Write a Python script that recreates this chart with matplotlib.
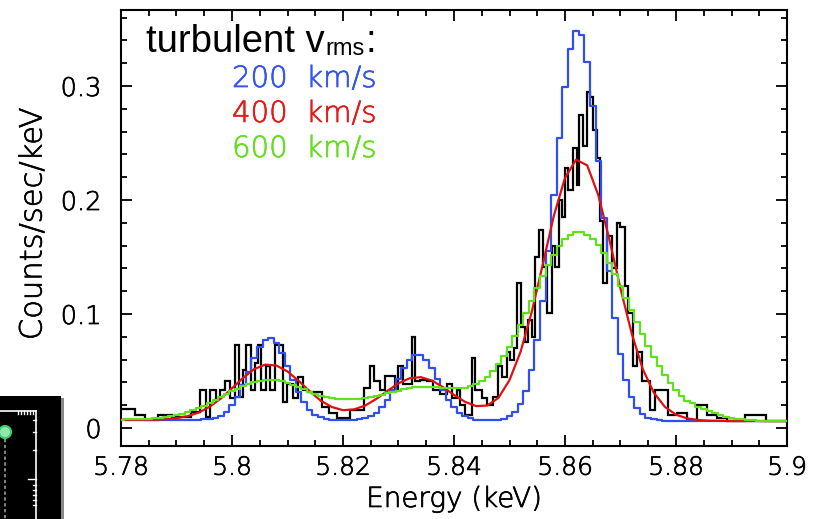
import numpy as np
import matplotlib
matplotlib.use("Agg")
import matplotlib.pyplot as plt
import matplotlib.patheffects as pe
from matplotlib.patches import Rectangle, Circle
from matplotlib.ticker import MultipleLocator

# ---------------- data ----------------
x_ticks = [5.78, 5.80, 5.82, 5.84, 5.86, 5.88, 5.90]
x_tick_labels = ["5.78", "5.8", "5.82", "5.84", "5.86", "5.88", "5.9"]
y_ticks = [0.0, 0.1, 0.2, 0.3]
y_tick_labels = ["0", "0.1", "0.2", "0.3"]

# model energy grids (keV)
model_E = np.linspace(5.78, 5.90, 121)
red_E = np.linspace(5.78, 5.90, 61)

blue_200 = [0.0072, 0.0072, 0.0072, 0.0072, 0.0072, 0.0071, 0.0071, 0.0071, 0.0071, 0.0071,
            0.0071, 0.0071, 0.0071, 0.0071, 0.0072, 0.0075, 0.0080, 0.0090, 0.0109, 0.0143,
            0.0198, 0.0276, 0.0377, 0.0495, 0.0613, 0.0714, 0.0776, 0.0786, 0.0744, 0.0656,
            0.0542, 0.0422, 0.0313, 0.0225, 0.0161, 0.0118, 0.0094, 0.0080, 0.0073, 0.0070,
            0.0068, 0.0069, 0.0072, 0.0076, 0.0086, 0.0104, 0.0133, 0.0181, 0.0247, 0.0333,
            0.0429, 0.0523, 0.0599, 0.0641, 0.0640, 0.0598, 0.0522, 0.0428, 0.0332, 0.0246,
            0.0180, 0.0132, 0.0102, 0.0084, 0.0074, 0.0069, 0.0066, 0.0068, 0.0073, 0.0083,
            0.0103, 0.0142, 0.0212, 0.0327, 0.0506, 0.0768, 0.1117, 0.1552, 0.2044, 0.2544,
            0.2994, 0.3324, 0.3484, 0.3444, 0.3214, 0.2824, 0.2343, 0.1843, 0.1373, 0.0966,
            0.0653, 0.0424, 0.0272, 0.0176, 0.0122, 0.0091, 0.0075, 0.0068, 0.0064, 0.0063,
            0.0062, 0.0062, 0.0062, 0.0062, 0.0062, 0.0061, 0.0061, 0.0061, 0.0061, 0.0061,
            0.0061, 0.0061, 0.0061, 0.0061, 0.0061, 0.0060, 0.0060, 0.0060, 0.0060, 0.0060,
            0.0060]

red_400 = [0.0072, 0.0072, 0.0073, 0.0073, 0.0077, 0.0086, 0.0104, 0.0135, 0.0187, 0.0259,
           0.0348, 0.0440, 0.0517, 0.0556, 0.0548, 0.0496, 0.0414, 0.0322, 0.0239, 0.0184,
           0.0156, 0.0163, 0.0197, 0.0255, 0.0325, 0.0392, 0.0436, 0.0446, 0.0417, 0.0359,
           0.0290, 0.0229, 0.0192, 0.0197, 0.0264, 0.0420, 0.0669, 0.1017, 0.1435, 0.1864,
           0.2194, 0.2354, 0.2304, 0.2043, 0.1653, 0.1223, 0.0833, 0.0518, 0.0310, 0.0185,
           0.0117, 0.0084, 0.0070, 0.0064, 0.0062, 0.0061, 0.0061, 0.0061, 0.0060, 0.0060,
           0.0060]

green_600 = [0.0074, 0.0075, 0.0076, 0.0077, 0.0080, 0.0082, 0.0085, 0.0091, 0.0097, 0.0105,
             0.0115, 0.0127, 0.0141, 0.0158, 0.0177, 0.0196, 0.0219, 0.0244, 0.0269, 0.0295,
             0.0321, 0.0345, 0.0367, 0.0386, 0.0402, 0.0413, 0.0419, 0.0420, 0.0417, 0.0409,
             0.0396, 0.0380, 0.0361, 0.0341, 0.0320, 0.0300, 0.0285, 0.0272, 0.0262, 0.0256,
             0.0253, 0.0252, 0.0254, 0.0258, 0.0264, 0.0272, 0.0282, 0.0293, 0.0305, 0.0317,
             0.0328, 0.0340, 0.0351, 0.0358, 0.0362, 0.0362, 0.0361, 0.0357, 0.0353, 0.0350,
             0.0347, 0.0348, 0.0353, 0.0364, 0.0383, 0.0410, 0.0448, 0.0497, 0.0557, 0.0629,
             0.0711, 0.0803, 0.0903, 0.1008, 0.1118, 0.1226, 0.1332, 0.1431, 0.1520, 0.1596,
             0.1656, 0.1696, 0.1717, 0.1717, 0.1697, 0.1658, 0.1602, 0.1531, 0.1447, 0.1352,
             0.1250, 0.1143, 0.1034, 0.0926, 0.0821, 0.0720, 0.0626, 0.0540, 0.0462, 0.0394,
             0.0333, 0.0281, 0.0237, 0.0215, 0.0188, 0.0165, 0.0145, 0.0128, 0.0113, 0.0100,
             0.0090, 0.0082, 0.0076, 0.0072, 0.0068, 0.0065, 0.0062, 0.0061, 0.0061, 0.0060,
             0.0060]

# observed spectrum (variable-width bins)
data_edges = [5.7800, 5.7825, 5.7843, 5.7867, 5.7891, 5.7927, 5.7942, 5.7954, 5.7960, 5.7972,
              5.7978, 5.7987, 5.7996, 5.8005, 5.8012, 5.8020, 5.8026, 5.8035, 5.8041, 5.8047,
              5.8053, 5.8062, 5.8068, 5.8077, 5.8092, 5.8099, 5.8110, 5.8119, 5.8128, 5.8137,
              5.8153, 5.8162, 5.8174, 5.8189, 5.8213, 5.8237, 5.8249, 5.8255, 5.8267, 5.8276,
              5.8294, 5.8300, 5.8309, 5.8324, 5.8330, 5.8339, 5.8351, 5.8363, 5.8375, 5.8387,
              5.8396, 5.8405, 5.8411, 5.8420, 5.8432, 5.8438, 5.8450, 5.8459, 5.8471, 5.8480,
              5.8486, 5.8495, 5.8501, 5.8508, 5.8514, 5.8520, 5.8528, 5.8534, 5.8540, 5.8546,
              5.8554, 5.8560, 5.8567, 5.8576, 5.8582, 5.8590, 5.8594, 5.8600, 5.8606, 5.8615,
              5.8621, 5.8626, 5.8633, 5.8639, 5.8645, 5.8651, 5.8658, 5.8663, 5.8668, 5.8675,
              5.8684, 5.8693, 5.8699, 5.8708, 5.8714, 5.8723, 5.8729, 5.8738, 5.8753, 5.8762,
              5.8786, 5.8801, 5.8819, 5.8838, 5.8855, 5.8873, 5.8891, 5.8924, 5.8963, 5.9000]
data_counts = [0.0167, 0.0114, 0.0070, 0.0114, 0.0096, 0.0143, 0.0333, 0.0099, 0.0333, 0.0260,
               0.0333, 0.0410, 0.0260, 0.0730, 0.0270, 0.0510, 0.0730, 0.0330, 0.0570, 0.0730,
               0.0330, 0.0540, 0.0330, 0.0730, 0.0230, 0.0390, 0.0260, 0.0450, 0.0330, 0.0320,
               0.0320, 0.0187, 0.0130, 0.0088, 0.0158, 0.0350, 0.0540, 0.0410, 0.0330, 0.0460,
               0.0330, 0.0540, 0.0390, 0.0800, 0.0410, 0.0420, 0.0410, 0.0330, 0.0300, 0.0390,
               0.0260, 0.0330, 0.0200, 0.0114, 0.0610, 0.0330, 0.0260, 0.0200, 0.0275, 0.0540,
               0.0450, 0.0670, 0.0600, 0.0700, 0.1270, 0.0890, 0.0750, 0.0950, 0.0800, 0.1500,
               0.1740, 0.1410, 0.1010, 0.1600, 0.1410, 0.2000, 0.1850, 0.2280, 0.2090, 0.2460,
               0.2130, 0.2750, 0.2470, 0.2950, 0.2900, 0.2610, 0.2370, 0.1820, 0.1270, 0.1680,
               0.1400, 0.1800, 0.1760, 0.1250, 0.1010, 0.0540, 0.0670, 0.0410, 0.0158, 0.0330,
               0.0114, 0.0134, 0.0070, 0.0200, 0.0114, 0.0085, 0.0064, 0.0114, 0.0064]

legend_title = "turbulent v"
legend_sub = "rms"
legend_colon = ":"
legend_labels = ["200  km/s", "400  km/s", "600  km/s"]

# ---------------- style ----------------
plt.rcParams["font.family"] = ["DejaVu Sans"]
C_BLUE = "#2f4ff0"
C_RED = "#e01010"
C_GREEN = "#5fe11c"
TXT_BLUE = "#3355ee"
TXT_RED = "#e31a1a"
TXT_GREEN = "#66dd22"
LIGHT = "light"


def thick(color, w=0.5):
    return [pe.withStroke(linewidth=w, foreground=color)]


W, H = 822, 519
fig = plt.figure(figsize=(W / 100, H / 100), dpi=100)


def fx(x):
    return x / W


def fy(y):
    return 1 - y / H


ax = fig.add_axes([fx(121), fy(446), (787 - 121) / W, (446 - 10) / H])
ax.set_xlim(5.78, 5.90)
ax.set_ylim(-0.0158, 0.3667)

ax.stairs(data_counts, data_edges, baseline=None, color="black", lw=1.6, zorder=2)
ax.plot(model_E, blue_200, drawstyle="steps-mid", color=C_BLUE, lw=1.6, zorder=3)
ax.plot(red_E, red_400, color=C_RED, lw=1.6, zorder=4)
ax.plot(model_E, green_600, drawstyle="steps-mid", color=C_GREEN, lw=1.6, zorder=5)

ax.set_xticks(x_ticks)
ax.set_xticklabels(x_tick_labels, fontweight=LIGHT, path_effects=thick("black"))
ax.set_yticks(y_ticks)
ax.set_yticklabels(y_tick_labels, fontweight=LIGHT, path_effects=thick("black"))
ax.xaxis.set_minor_locator(MultipleLocator(0.005))
ax.yaxis.set_minor_locator(MultipleLocator(0.02))
ax.tick_params(which="both", direction="in", top=True, right=True, width=1.3, colors="black")
ax.tick_params(which="major", length=8)
ax.tick_params(which="minor", length=4.5)
ax.tick_params(axis="x", labelsize=18, pad=7)
ax.tick_params(axis="y", labelsize=18.5, pad=14)
for s in ax.spines.values():
    s.set_linewidth(1.5)

fig.text(fx(33), fy(224), "Counts/sec/keV", rotation=90, ha="center", va="center",
         fontsize=22, fontweight=LIGHT, path_effects=thick("black"))
fig.text(fx(454), fy(507), "Energy (keV)", ha="center", va="baseline", fontsize=20,
         fontweight=LIGHT, path_effects=thick("black"))

# legend-like annotations
fam = ["Liberation Sans", "DejaVu Sans"]
t_title = fig.text(fx(146), fy(52), legend_title, ha="left", va="baseline", fontsize=27.5,
                   family=fam)
renderer = fig.canvas.get_renderer()
bb = t_title.get_window_extent(renderer)
t_sub = fig.text(bb.x1 / W + 0.5 / W, fy(55), legend_sub, ha="left", va="baseline",
                 fontsize=17, family=fam)
bb2 = t_sub.get_window_extent(renderer)
fig.text(bb2.x1 / W + 1 / W, fy(52), legend_colon, ha="left", va="baseline", fontsize=27.5,
         family=fam)
for lab, col, yb in zip(legend_labels, [TXT_BLUE, TXT_RED, TXT_GREEN], [87, 122, 157]):
    fig.text(fx(232), fy(yb), lab, ha="left", va="baseline", fontsize=21, color=col,
             fontweight=LIGHT, path_effects=thick(col))

# fragment of a neighbouring panel at lower left
ins = fig.add_axes([0, 0, fx(61), (519 - 396) / H])
ins.set_facecolor("black")
ins.set_xlim(0, 61)
ins.set_ylim(519, 396)
ins.set_xticks([])
ins.set_yticks([])
for s in ins.spines.values():
    s.set_visible(False)
ins.plot([0, 35.5], [410.5, 410.5], color="white", lw=1.2)
ins.plot([35.5, 35.5], [410.5, 519], color="white", lw=1.2)
for xt in [18, 21, 24, 27, 30, 33]:
    ins.plot([xt, xt], [410.5, 413.5], color="white", lw=1)
for yt, ln in [(420, 3), (432, 3), (450, 3), (479, 8), (485, 3), (490, 3), (495, 3), (500, 3), (505, 3)]:
    ins.plot([35.5 - ln, 35.5], [yt, yt], color="white", lw=1)
ins.plot([5, 5], [439, 519], color="#9a9a9a", lw=1.2, ls=(0, (2, 1.5)))
ins.add_patch(Circle((5, 432), 6, facecolor="#8fe8b0", edgecolor="#3fcf6a", lw=1.5))
fig.patches.append(Rectangle((fx(61), 0), fx(2.5), (519 - 398) / H, transform=fig.transFigure,
                             facecolor="#8a8a8a", edgecolor="none"))

fig.savefig("out.png", dpi=100)
